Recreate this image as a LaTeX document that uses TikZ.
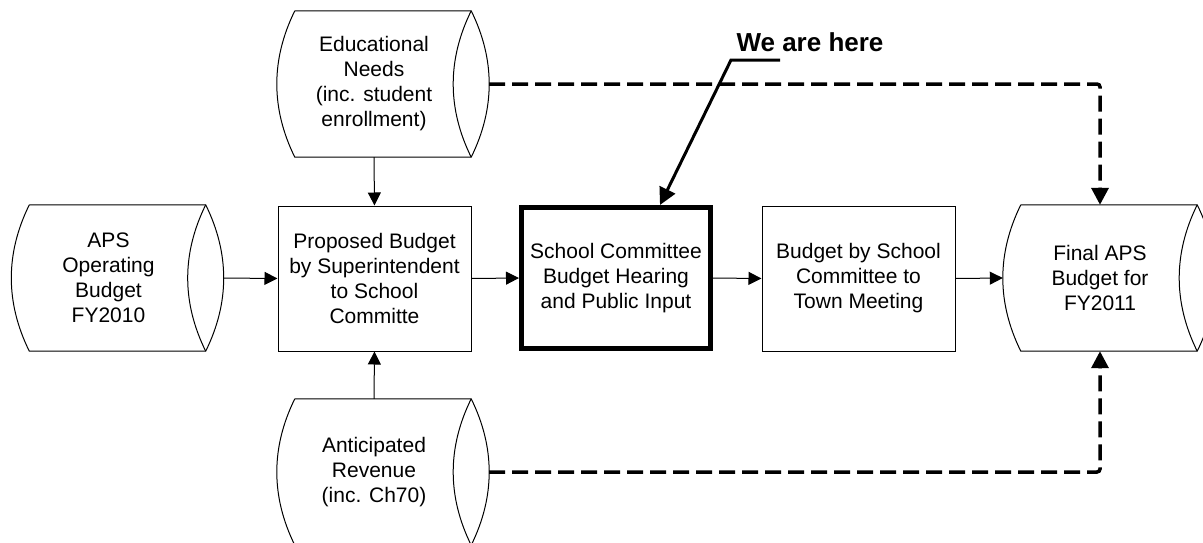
\documentclass[tikz,border=0pt]{standalone}
\usepackage{fontspec}
\setmainfont{Liberation Sans}
\usetikzlibrary{arrows.meta}
\newcommand{\drum}[1]{%
	\draw[line width=1pt] ([xshift=18pt]#1.north west) -- (#1.north east)
		.. controls +(24,48.7) and +(24,-48.7) .. (#1.south east)
		-- ([xshift=18pt]#1.south west)
		.. controls +(-24,-48.7) and +(-24,48.7) .. ([xshift=18pt]#1.north west);
	\draw[line width=1pt] (#1.north east) .. controls +(-24,48.7) and +(-24,-48.7) .. (#1.south east);}
\begin{document}
\begin{tikzpicture}[x=1pt,y=-1pt,
	every node/.style={font=\fontsize{21}{25}\selectfont,align=center},
	store/.style={minimum width=194pt,minimum height=146pt,inner sep=0pt},
	process/.style={draw,line width=1pt,minimum width=193pt,minimum height=145pt,inner sep=0pt},
	focus/.style={draw,line width=5pt,minimum width=189pt,minimum height=141pt,inner sep=0pt},
	flow/.style={line width=1pt,-{Triangle[length=13pt,width=13pt]}},
	feed/.style={line width=3.5pt,dash pattern=on 16pt off 7pt,rounded corners=3pt,-{Triangle[length=17pt,width=17pt]}},
	pointer/.style={line width=3pt,-{Triangle[length=17pt,width=17pt]}}]
	\useasboundingbox (0,0) rectangle (1203,542);
	\node[store] (aps) at (108.5,278) {APS\\Operating\\Budget\\FY2010};
	\node[store] (edu) at (374,84) {Educational\\Needs\\(inc. student\\enrollment)};
	\node[store] (ant) at (374,472) {Anticipated\\Revenue\\(inc. Ch70)};
	\node[store] (final) at (1100,278) {Final APS\\Budget for\\FY2011};
	\drum{aps}
	\drum{edu}
	\drum{ant}
	\drum{final}
	\node[process] (prop) at (374.5,278.5) {Proposed Budget\\by Superintendent\\to School\\Committe};
	\node[focus] (hear) at (616,278) {School Committee\\Budget Hearing\\and Public Input};
	\node[process] (town) at (858.5,278.5) {Budget by School\\Committee to\\Town Meeting};
	\node[font=\fontsize{26}{30}\selectfont\bfseries] (here) at (810,42) {We are here};
	\coordinate (tail) at (780,60);
	\coordinate (knee) at (731,60);
	\draw[flow] ([xshift=18pt]aps.east) -- (prop.west);
	\draw[flow] (edu.south) -- (prop.north);
	\draw[flow] (ant.north) -- (prop.south);
	\draw[flow] (prop.east) -- (hear.west);
	\draw[flow] (hear.east) -- (town.west);
	\draw[flow] (town.east) -- (final.west);
	\draw[feed] ([xshift=18pt]edu.east) -| (final.north);
	\draw[feed] ([xshift=18pt]ant.east) -| (final.south);
	\draw[pointer] (tail) -- (knee) -- ([xshift=44pt]hear.north);
\end{tikzpicture}
\end{document}
